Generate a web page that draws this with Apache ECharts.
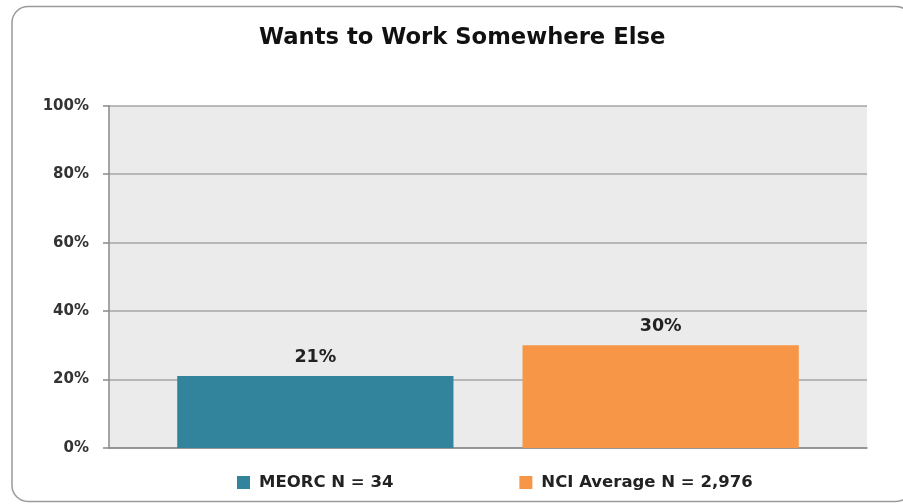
<!DOCTYPE html>
<html><head><meta charset="utf-8">
<script src="https://cdn.jsdelivr.net/npm/echarts@6/dist/echarts.min.js"></script>
<style>html,body{margin:0;padding:0;background:#fff}#c{width:903px;height:504px}</style>
</head><body><div id="c"></div>
<script>
const title = 'Wants to Work Somewhere Else';
const categories = [''];
const seriesNames = ['MEORC N = 34', 'NCI Average N = 2,976'];
const meorcValues = [21];
const nciValues = [30];
const yTicks = [0, 20, 40, 60, 80, 100];

const FONT = '"DejaVu Sans"';
const chart = echarts.init(document.getElementById('c'), null, {renderer: 'canvas'});
chart.setOption({
  animation: false,
  textStyle: {fontFamily: FONT},
  title: {text: title, left: 254, top: 22,
    textStyle: {fontFamily: FONT, fontSize: 22.7, fontWeight: 'bold', color: '#111'}},
  graphic: [{type: 'rect', shape: {x: 12, y: 6.5, width: 900, height: 495, r: 16},
    style: {fill: 'none', stroke: '#9a9a9a', lineWidth: 1.5}, silent: true, z: -10}],
  grid: {left: 109, right: 36, top: 105.7, bottom: 56, show: true,
    backgroundColor: '#ebebeb', borderWidth: 0},
  legend: {left: 232, top: 469, itemWidth: 13, itemHeight: 13, itemGap: 126,
    icon: 'rect',
    textStyle: {fontFamily: FONT, fontSize: 16.5, fontWeight: 'bold', color: '#222', padding: [0, 0, 0, 4]},
    data: seriesNames},
  xAxis: {type: 'category', data: categories,
    axisLine: {show: true, lineStyle: {color: '#8a8a8a', width: 1.5}},
    axisTick: {show: false}, axisLabel: {show: false}},
  yAxis: {type: 'value', min: yTicks[0], max: yTicks[yTicks.length - 1], interval: 20,
    axisLine: {show: true, lineStyle: {color: '#8a8a8a', width: 1.5}},
    axisTick: {show: true, length: 6, lineStyle: {color: '#8a8a8a', width: 1.5}},
    axisLabel: {formatter: '{value}%', fontFamily: FONT, fontSize: 15, fontWeight: 'bold', color: '#333', margin: 20},
    splitLine: {lineStyle: {color: '#a6a6a6', width: 1.5}}},
  series: [
    {name: seriesNames[0], type: 'bar', data: meorcValues, barGap: '25%', barCategoryGap: '18%',
      itemStyle: {color: '#31849b'},
      label: {show: true, position: 'top', distance: 10, formatter: '{c}%', fontFamily: FONT, fontSize: 17.5, fontWeight: 'bold', color: '#222'}},
    {name: seriesNames[1], type: 'bar', data: nciValues,
      itemStyle: {color: '#f79646'},
      label: {show: true, position: 'top', distance: 10, formatter: '{c}%', fontFamily: FONT, fontSize: 17.5, fontWeight: 'bold', color: '#222'}}
  ]
});
</script></body></html>
